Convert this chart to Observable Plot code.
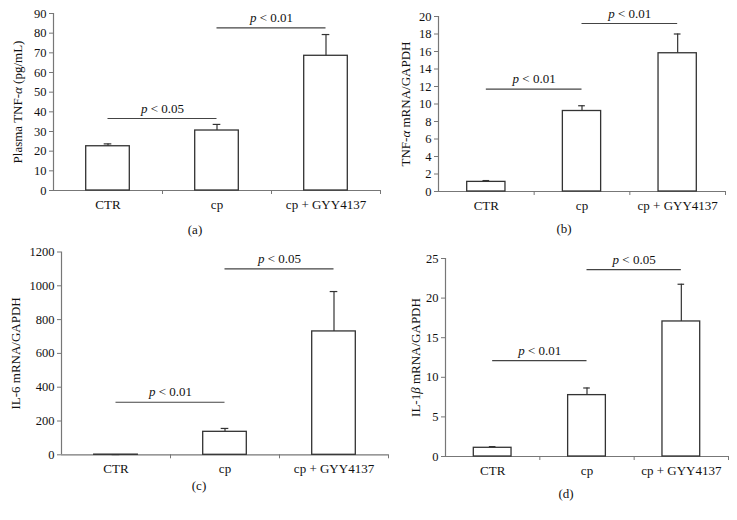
<!DOCTYPE html>
<html>
<head>
<meta charset="utf-8">
<script src="https://cdn.jsdelivr.net/npm/d3@7"></script>
<script src="https://cdn.jsdelivr.net/npm/@observablehq/plot@0.6"></script>
<style>
  html, body { margin: 0; padding: 0; background: #fff; }
  #fig { position: relative; width: 737px; height: 520px; overflow: hidden; font-family: "Liberation Serif", "DejaVu Serif", serif; color: #111; }
  .panel { position: absolute; }
  .cap { position: absolute; transform: translate(-50%, -50%); font-size: 13px; white-space: nowrap; }
</style>
</head>
<body>
<div id="fig"></div>
<script>
// ---- data ----
const categories = ["CTR", "cp", "cp + GYY4137"];

const plasmaTnf = [22.5, 30.5, 68.5];
const plasmaTnfErr = [1.2, 3.1, 10.8];
const plasmaTnfTicks = [0, 10, 20, 30, 40, 50, 60, 70, 80, 90];
const plasmaTnfComps = [
  {from: 0, to: 1, y: 36.6, label: "p < 0.05"},
  {from: 1, to: 2, y: 82.7, label: "p < 0.01"}
];

const tnfMrna = [1.1, 9.2, 15.8];
const tnfMrnaErr = [0.15, 0.6, 2.2];
const tnfMrnaTicks = [0, 2, 4, 6, 8, 10, 12, 14, 16, 18, 20];
const tnfMrnaComps = [
  {from: 0, to: 1, y: 11.7, label: "p < 0.01"},
  {from: 1, to: 2, y: 19.2, label: "p < 0.01"}
];

const il6Mrna = [1, 136, 730];
const il6MrnaErr = [0.3, 20, 236];
const il6MrnaTicks = [0, 200, 400, 600, 800, 1000, 1200];
const il6MrnaComps = [
  {from: 0, to: 1, y: 311, label: "p < 0.01"},
  {from: 1, to: 2, y: 1100, label: "p < 0.05"}
];

const il1bMrna = [1.1, 7.75, 17.05];
const il1bMrnaErr = [0.15, 0.9, 4.7];
const il1bMrnaTicks = [0, 5, 10, 15, 20, 25];
const il1bMrnaComps = [
  {from: 0, to: 1, y: 12.1, label: "p < 0.01"},
  {from: 1, to: 2, y: 23.6, label: "p < 0.05"}
];

const yLabels = ["Plasma TNF-α (pg/mL)", "TNF-α mRNA/GAPDH", "IL-6 mRNA/GAPDH", "IL-1β mRNA/GAPDH"];
const captions = ["(a)", "(b)", "(c)", "(d)"];

// ---- layout ----
const panels = [
  {values: plasmaTnf, err: plasmaTnfErr, ticks: plasmaTnfTicks, comps: plasmaTnfComps, label: yLabels[0], caption: captions[0],
   left: 0, top: 0, width: 385, height: 215, ml: 53, mr: 5, mt: 13, mb: 25, labelDx: -36, capX: 195, capY: 230},
  {values: tnfMrna, err: tnfMrnaErr, ticks: tnfMrnaTicks, comps: tnfMrnaComps, label: yLabels[1], caption: captions[1],
   left: 370, top: 0, width: 367, height: 215, ml: 68, mr: 12, mt: 16, mb: 24, labelDx: -33, capX: 564, capY: 229},
  {values: il6Mrna, err: il6MrnaErr, ticks: il6MrnaTicks, comps: il6MrnaComps, label: yLabels[2], caption: captions[2],
   left: 0, top: 240, width: 392, height: 240, ml: 61, mr: 4, mt: 11.5, mb: 25.7, labelDx: -46, capX: 199, capY: 486},
  {values: il1bMrna, err: il1bMrnaErr, ticks: il1bMrnaTicks, comps: il1bMrnaComps, label: yLabels[3], caption: captions[3],
   left: 370, top: 240, width: 367, height: 240, ml: 75, mr: 9, mt: 18, mb: 24, labelDx: -30, capX: 566, capY: 494}
];

const TEXT = "#111", AXIS = "#777", BAR = "#333", PLINE = "#444";

function styleText(svg) {
  svg.querySelectorAll("text").forEach(t => {
    if (t.querySelector("tspan")) return;
    const s = t.textContent;
    const parts = [];
    if (/^p </.test(s)) {
      parts.push(["p", true], [s.slice(1), false]);
    } else if (/[αβ]/.test(s)) {
      s.split(/([αβ])/).forEach(p => { if (p) parts.push([p, /[αβ]/.test(p)]); });
    } else return;
    t.textContent = "";
    parts.forEach(([txt, it]) => {
      const ts = document.createElementNS("http://www.w3.org/2000/svg", "tspan");
      ts.textContent = txt;
      if (it) ts.setAttribute("font-style", "italic");
      t.appendChild(ts);
    });
  });
}

const fig = document.getElementById("fig");

panels.forEach(p => {
  const data = categories.map((c, i) => ({cat: c, i, v: p.values[i], top: p.values[i] + p.err[i]}));
  const ymax = p.ticks[p.ticks.length - 1];
  const chart = Plot.plot({
    width: p.width, height: p.height,
    marginLeft: p.ml, marginRight: p.mr, marginTop: p.mt, marginBottom: p.mb,
    style: {fontFamily: "'Liberation Serif', serif", fontSize: "12.5px", color: TEXT, background: "transparent", overflow: "visible", maxWidth: "none"},
    x: {domain: [0, categories.length], axis: null},
    y: {domain: [0, ymax], axis: null},
    marks: [
      // y axis
      Plot.ruleX([0], {stroke: AXIS, strokeWidth: 1.2}),
      Plot.axisY({ticks: p.ticks, tickSize: 4, tickPadding: 3, tickFormat: d => String(d), label: null, stroke: AXIS, color: TEXT, fill: TEXT}),
      // x axis
      Plot.ruleY([0], {stroke: AXIS, strokeWidth: 1.2}),
      Plot.axisX({ticks: d3.range(1, categories.length + 1), tickSize: 4, tickFormat: () => "", label: null, stroke: AXIS}),
      Plot.text(data, {x: d => d.i + 0.5, y: 0, text: "cat", dy: 14, lineAnchor: "middle", fontSize: 13, fill: TEXT}),
      // bars
      Plot.rectY(data, {x1: d => d.i + 0.3, x2: d => d.i + 0.7, y1: 0, y2: "v", fill: "white", stroke: BAR, strokeWidth: 1.3}),
      // error bars
      Plot.ruleX(data, {x: d => d.i + 0.5, y1: "v", y2: "top", stroke: BAR, strokeWidth: 1.2}),
      Plot.ruleY(data, {y: "top", x1: d => d.i + 0.465, x2: d => d.i + 0.535, stroke: BAR, strokeWidth: 1.2}),
      // significance lines
      Plot.ruleY(p.comps, {y: "y", x1: d => d.from + 0.5, x2: d => d.to + 0.5, stroke: PLINE, strokeWidth: 1.1}),
      Plot.text(p.comps, {x: d => (d.from + d.to) / 2 + 0.5, y: "y", text: "label", dy: -10, lineAnchor: "middle", fontSize: 13, fill: TEXT}),
      // y label
      Plot.text([p.label], {frameAnchor: "left", rotate: -90, dx: p.labelDx, text: d => d, lineAnchor: "middle", textAnchor: "middle", fontSize: 13, fill: TEXT})
    ]
  });
  chart.classList.add("panel");
  chart.style.left = p.left + "px";
  chart.style.top = p.top + "px";
  styleText(chart);
  fig.appendChild(chart);

  const cap = document.createElement("div");
  cap.className = "cap";
  cap.style.left = p.capX + "px";
  cap.style.top = p.capY + "px";
  cap.textContent = p.caption;
  fig.appendChild(cap);
});
</script>
</body>
</html>
